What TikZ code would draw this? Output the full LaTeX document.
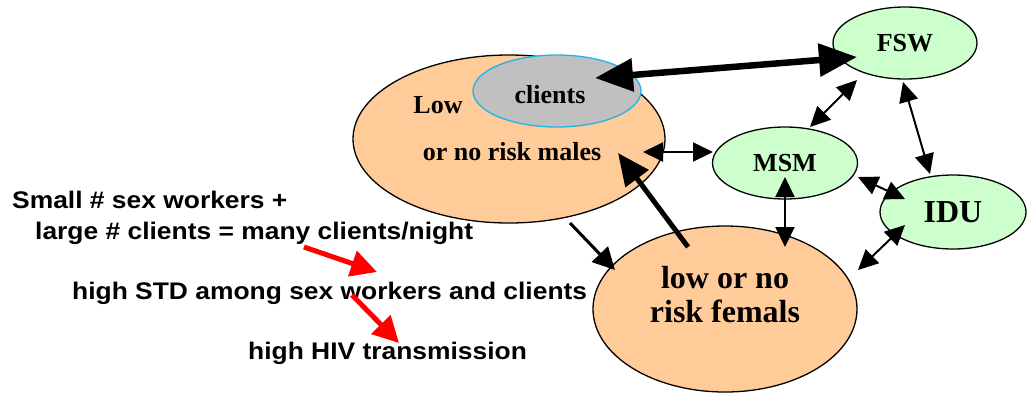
\documentclass[tikz,border=0pt]{standalone}
\usepackage{fontspec}
\setmainfont{Liberation Serif}
\setsansfont{Liberation Sans}
\newfontfamily\sidefont[FakeStretch=1.1]{Liberation Sans}
\usetikzlibrary{shapes.geometric,arrows.meta}
\definecolor{peach}{HTML}{FFCC99}
\definecolor{mint}{HTML}{CCFFCC}
\definecolor{cgray}{HTML}{C0C0C0}
\definecolor{cyanb}{HTML}{1EB4E8}
\tikzset{
  blob/.style={ellipse,draw=black,line width=1.3pt,inner sep=0pt},
  peachblob/.style={blob,fill=peach},
  mintblob/.style={blob,fill=mint},
  lbl/.style={font=\bfseries\fontsize{26}{30}\selectfont,inner sep=0pt},
  side/.style={font=\sidefont\bfseries\fontsize{24}{28}\selectfont,inner sep=0pt,anchor=west},
  thin2/.style={line width=2pt,{Triangle[length=20pt,width=19pt]}-{Triangle[length=20pt,width=19pt]}},
  bigtwo/.style={line width=6.5pt,{Triangle[length=38pt,width=32pt]}-{Triangle[length=38pt,width=32pt]}},
  bigone/.style={line width=5pt,-{Triangle[length=32pt,width=28pt]}},
  midone/.style={line width=3pt,-{Triangle[length=22pt,width=22pt]}},
  redone/.style={draw=red,line width=5pt,-{Triangle[length=26pt,width=26pt]}},
}
\begin{document}
\begin{tikzpicture}[x=1pt,y=-1pt]
\useasboundingbox (0,0) rectangle (1028,392);
% ellipses
\node[peachblob,minimum width=312pt,minimum height=168pt] (males) at (509,139) {};
\node[blob,fill=cgray,draw=cyanb,minimum width=168pt,minimum height=72pt] (clients) at (557,91) {};
\node[peachblob,minimum width=264pt,minimum height=166pt] (females) at (725,309) {};
\node[mintblob,minimum width=144pt,minimum height=72pt] (fsw) at (905,43) {};
\node[mintblob,minimum width=145pt,minimum height=72pt] (msm) at (785,163) {};
\node[mintblob,minimum width=146pt,minimum height=74pt] (idu) at (953,212) {};
% labels
\node[lbl] (lowt) at (438,105) {Low};
\node[lbl] (clit) at (550,95) {clients};
\node[lbl] (malet) at (512,152) {or no risk males};
\node[lbl] (fswt) at (905,43) {FSW};
\node[lbl] (msmt) at (785,163) {MSM};
\node[lbl,font=\bfseries\fontsize{32}{36}\selectfont] (idut) at (953,212) {IDU};
\node[lbl,font=\bfseries\fontsize{32}{36}\selectfont,align=center] (femt) at (725,295) {low or no\\[-2pt]risk femals};
% side text
\node[side] (t1) at (12,200) {Small \# sex workers +};
\node[side] (t2) at (35,233) {large \# clients = many clients/night};
\node[side] (t3) at (72,293) {high STD among sex workers and clients};
\node[side] (t4) at (248,353) {high HIV transmission};
% connectors
\draw[bigtwo] ([shift={(38,-13)}]clients.center) -- ([shift={(-48,14)}]fsw.center);
\draw[thin2] ([shift={(25,-36)}]msm.center) -- ([shift={(-48,37)}]fsw.center);
\draw[thin2] ([shift={(-2,39)}]fsw.center) -- ([shift={(-23,-38)}]idu.center);
\draw[thin2] ([shift={(134,13)}]males.center) -- ([shift={(-72,-11)}]msm.center);
\draw[thin2] ([shift={(73,14)}]msm.center) -- ([shift={(-48,-13)}]idu.center);
\draw[thin2] ([shift={(0,14)}]msm.center) -- ([shift={(60,-62)}]females.center);
\draw[thin2] ([shift={(-48,13)}]idu.center) -- ([shift={(133,-39)}]females.center);
\draw[bigone] ([shift={(-37,-62)}]females.center) -- ([shift={(109,14)}]males.center);
\draw[midone] ([shift={(61,84)}]males.center) -- ([shift={(-110,-39)}]females.center);
\draw[redone] ([shift={(269,14)}]t2.west) -- ([shift={(305,-21)}]t3.west);
\draw[redone] ([shift={(280,2)}]t3.west) -- ([shift={(151,-10)}]t4.west);
\end{tikzpicture}
\end{document}
